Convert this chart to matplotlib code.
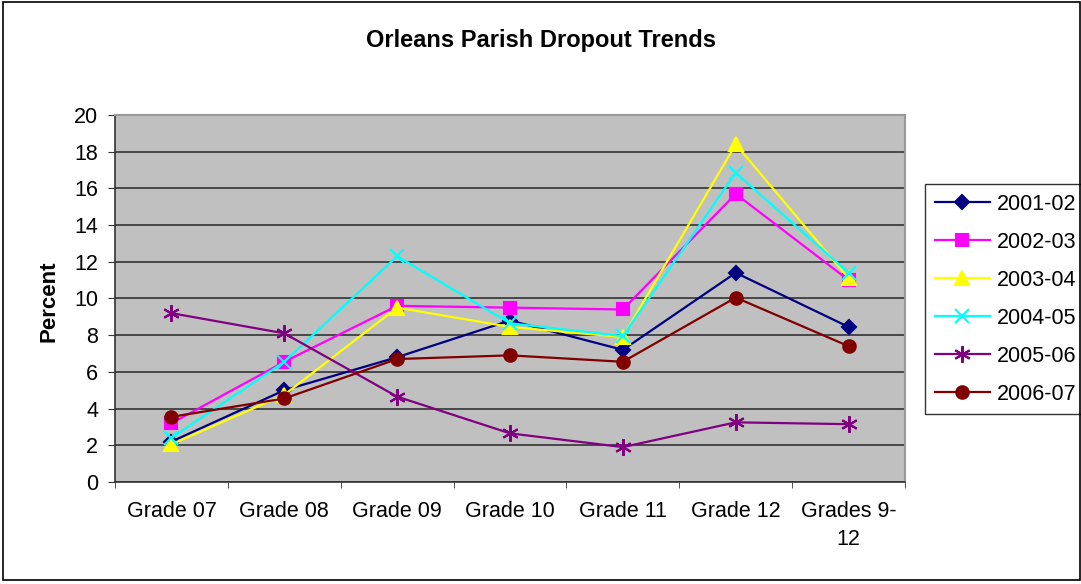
import numpy as np
import matplotlib.pyplot as plt
from matplotlib.patches import Rectangle

plt.rcParams['font.family'] = ['Liberation Sans', 'DejaVu Sans']

grades = ["Grade 07", "Grade 08", "Grade 09", "Grade 10", "Grade 11", "Grade 12", "Grades 9-\n12"]
years = ["2001-02", "2002-03", "2003-04", "2004-05", "2005-06", "2006-07"]

y2001 = [2.2, 5.0, 6.8, 8.8, 7.2, 11.4, 8.45]
y2002 = [3.2, 6.55, 9.6, 9.5, 9.4, 15.7, 11.0]
y2003 = [2.05, 4.75, 9.5, 8.45, 7.9, 18.4, 11.1]
y2004 = [2.4, 6.55, 12.3, 8.65, 7.95, 16.85, 11.4]
y2005 = [9.2, 8.1, 4.65, 2.65, 1.9, 3.25, 3.15]
y2006 = [3.55, 4.55, 6.7, 6.9, 6.55, 10.05, 7.4]

series = [y2001, y2002, y2003, y2004, y2005, y2006]
colors = ["#000080", "#FF00FF", "#FFFF00", "#00FFFF", "#800080", "#800000"]
markers = ["D", "s", "^", "x", (6, 2, 0), "o"]
msizes = [7, 8, 10, 10, 12, 9]

fs = 15.5

fig = plt.figure(figsize=(10.81, 5.84), dpi=100)
ax = fig.add_axes([0.1064, 0.1747, 0.7308, 0.6284])
ax.set_facecolor("#C0C0C0")

x = np.arange(len(grades))
for vals, lab, c, m, ms in zip(series, years, colors, markers, msizes):
    ax.plot(x, vals, color=c, marker=m, markersize=ms, linewidth=1.6, label=lab,
            markeredgecolor=c, markeredgewidth=1.5, zorder=3)

ax.set_xlim(-0.5, len(grades) - 0.5)
ax.set_ylim(0, 20)
ax.set_yticks(np.arange(0, 21, 2))
ax.yaxis.grid(True, color="#333333", linewidth=1.2)
ax.set_axisbelow(True)

ax.set_xticks(x)
ax.set_xticklabels(grades, fontsize=fs, linespacing=1.4, va="top")
ax.set_xticks(np.arange(-0.5, len(grades)), minor=True)
ax.tick_params(axis="x", which="major", length=0, pad=14)
ax.tick_params(axis="x", which="minor", length=4, color="#333333", direction="out")
ax.tick_params(axis="y", labelsize=fs, length=5, pad=7, color="#333333", direction="out")

for s in ["left", "bottom"]:
    ax.spines[s].set_color("#333333")
    ax.spines[s].set_linewidth(1.2)
for s in ["right", "top"]:
    ax.spines[s].set_color("#999999")
    ax.spines[s].set_linewidth(1.5)

fig.text(49 / 1081, 1 - 301 / 584, "Percent", rotation=90, ha="center", va="center",
         fontsize=16, fontweight="bold")
fig.text(0.5, 0.9315, "Orleans Parish Dropout Trends", ha="center", va="center",
         fontsize=17, fontweight="bold")

leg = ax.legend(loc="upper left", bbox_to_anchor=(0.8557, 0.6849), bbox_transform=fig.transFigure,
                fontsize=fs, frameon=True, fancybox=False, edgecolor="black",
                borderaxespad=0, handlelength=2.56, labelspacing=0.79, borderpad=0.45,
                handletextpad=0.33)
leg.get_frame().set_linewidth(1.0)

fig.patches.append(Rectangle((0.003, 0.006), 0.9965, 0.99, transform=fig.transFigure,
                             fill=False, edgecolor="black", linewidth=1.2))

fig.savefig("out.png", dpi=100)
